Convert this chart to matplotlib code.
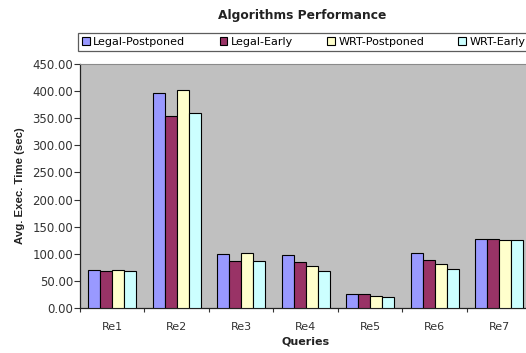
import numpy as np
import matplotlib
matplotlib.use("Agg")
import matplotlib.pyplot as plt

# data
queries = ["Re1", "Re2", "Re3", "Re4", "Re5", "Re6", "Re7"]
legal_postponed = [70, 397, 99, 97, 26, 101, 128]
legal_early = [68, 354, 87, 84, 26, 89, 128]
wrt_postponed = [70, 402, 101, 78, 22, 81, 126]
wrt_early = [68, 360, 87, 69, 20, 71, 126]

series = [
    ("Legal-Postponed", legal_postponed, "#9999FF"),
    ("Legal-Early", legal_early, "#993366"),
    ("WRT-Postponed", wrt_postponed, "#FFFFCC"),
    ("WRT-Early", wrt_early, "#CCFFFF"),
]

plt.rcParams['font.family'] = ['DejaVu Sans']

fig = plt.figure(figsize=(5.26, 3.53), dpi=100)
fig.patch.set_facecolor("white")
ax = fig.add_axes([0.152, 0.1275, 0.858, 0.6912])
ax.set_facecolor("#C0C0C0")

x = np.arange(len(queries))
w = 0.186
for i, (name, vals, col) in enumerate(series):
    ax.bar(x + (i - 1.5) * w, vals, width=w, color=col, edgecolor="black",
           linewidth=0.8, label=name, zorder=3)

ax.set_xlim(-0.5, len(queries) - 0.5)
ax.set_ylim(0, 450)
ax.set_yticks(np.arange(0, 451, 50))
ax.set_yticklabels([f"{v:.2f}" for v in np.arange(0, 451, 50)])
ax.tick_params(axis="y", direction="out", length=4, width=0.8, pad=1,
               labelsize=8.5, colors="#333333")

ax.set_xticks(x)
ax.set_xticklabels(queries)
ax.set_xticks(np.arange(-0.5, len(queries), 1), minor=True)
ax.tick_params(axis="x", which="major", length=0, pad=10, labelsize=8,
               colors="#333333")
ax.tick_params(axis="x", which="minor", direction="out", length=3, width=0.8,
               color="#333333")

for s in ["left", "bottom"]:
    ax.spines[s].set_color("#222222")
    ax.spines[s].set_linewidth(0.9)
ax.spines["top"].set_color("#8a8a8a")
ax.spines["right"].set_color("#8a8a8a")

ax.set_ylabel("Avg. Exec. Time (sec)", fontsize=8.2, fontweight="bold",
              family="Liberation Sans", labelpad=5, color="#222222")
ax.set_xlabel("Queries", fontsize=8, fontweight="bold", labelpad=3,
              color="#222222")
fig.text(0.574, 0.957, "Algorithms Performance", ha="center", va="center",
         fontsize=8.8, fontweight="bold", color="#222222")

leg = ax.legend(loc="lower left", bbox_to_anchor=(-0.004, 1.053, 1.0, 0.074),
                mode="expand", ncol=4, borderaxespad=0, fontsize=8,
                handlelength=0.7, handleheight=0.7, handletextpad=0.3,
                borderpad=0.35, frameon=True, fancybox=False)
leg.get_frame().set_edgecolor("#333333")
leg.get_frame().set_linewidth(0.9)

fig.savefig("out.png", dpi=100)
